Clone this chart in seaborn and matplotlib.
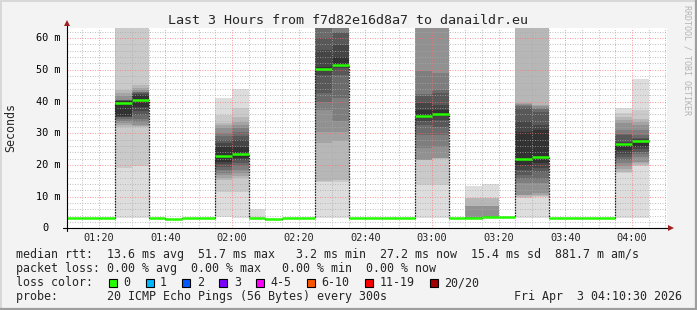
import numpy as np
import pandas as pd
import matplotlib
matplotlib.use("Agg")
import matplotlib.pyplot as plt
from matplotlib.patches import Rectangle
from matplotlib.lines import Line2D
import seaborn as sns

# ---------------- data ----------------
title = "Last 3 Hours from f7d82e16d8a7 to danaildr.eu"
y_axis_label = "Seconds"
slot_start = pd.date_range("2026-04-03 01:10", periods=35, freq="5min")
median_ms = [3.2, 3.2, 3.2, 39.4, 40.5, 3.2, 3.0, 3.2, 3.2, 22.9,
             23.45, 3.3, 3.0, 3.2, 3.2, 50.2, 51.6, 3.2, 3.2, 3.2,
             3.2, 35.3, 36.2, 3.2, 3.1, 3.6, 3.6, 21.9, 22.5, 3.2,
             3.2, 3.2, 3.2, 26.6, 27.4]
# sorted 20 ping round-trip times (ms) for the slots that show smoke
smoke_pings = {
    3: [3.35, 18.9, 32.1, 32.6, 33.2, 33.7, 34.5, 35.0, 35.2, 35.3, 40.2, 40.3, 40.4, 40.5, 40.6, 41.6, 42.6, 43.7, 70.0, 75.0],
    4: [3.4, 19.5, 32.1, 32.3, 32.6, 33.4, 34.5, 35.8, 37.0, 38.4, 42.1, 42.4, 42.7, 42.9, 43.1, 43.6, 44.4, 45.2, 70.0, 75.0],
    9: [3.5, 11.6, 15.2, 15.9, 16.8, 17.6, 18.4, 19.3, 20.2, 21.0, 25.8, 26.8, 27.9, 29.0, 30.0, 31.5, 32.5, 33.1, 35.7, 41.2],
    10: [3.3, 11.6, 15.8, 16.6, 17.4, 18.5, 19.5, 20.5, 21.6, 22.3, 25.8, 27.9, 29.0, 30.5, 31.5, 32.6, 33.5, 35.0, 38.0, 44.0],
    11: [3.1, 3.2, 3.2, 3.2, 3.2, 3.2, 3.2, 3.2, 3.2, 3.2, 3.2, 3.2, 3.2, 3.2, 3.2, 3.2, 3.2, 3.2, 3.4, 6.0],
    15: [3.3, 14.5, 15.0, 26.8, 30.5, 37.4, 40.0, 42.6, 48.4, 49.8, 51.0, 56.3, 60.0, 66.0, 68.0, 70.0, 72.0, 74.0, 76.0, 78.0],
    16: [3.3, 14.7, 15.2, 27.4, 30.5, 33.7, 41.0, 48.4, 50.5, 51.2, 54.0, 57.9, 61.6, 61.8, 66.0, 68.0, 70.0, 72.0, 74.0, 76.0],
    21: [3.3, 13.7, 21.4, 21.5, 21.6, 25.2, 29.5, 32.6, 33.7, 34.8, 37.3, 39.5, 41.6, 42.5, 49.5, 66.0, 68.0, 70.0, 72.0, 74.0],
    22: [3.3, 13.7, 22.0, 22.1, 22.1, 25.8, 29.5, 32.1, 34.2, 35.4, 37.4, 38.8, 42.6, 43.6, 48.9, 66.0, 68.0, 70.0, 72.0, 74.0],
    24: [3.0, 3.2, 3.2, 3.2, 3.2, 3.2, 3.2, 3.2, 3.2, 3.2, 3.2, 3.2, 3.2, 3.2, 3.7, 7.0, 7.0, 9.7, 9.7, 13.35],
    25: [3.3, 3.6, 3.6, 3.6, 3.6, 3.6, 3.6, 3.6, 3.6, 3.6, 3.6, 3.6, 3.6, 3.6, 3.9, 7.0, 7.0, 9.7, 9.7, 14.0],
    27: [3.3, 9.7, 9.9, 10.5, 10.5, 14.2, 15.7, 16.8, 18.5, 20.0, 30.5, 33.7, 37.9, 38.5, 38.9, 39.2, 39.5, 66.0, 70.0, 74.0],
    28: [3.3, 10.0, 10.3, 10.5, 11.0, 14.2, 15.5, 17.8, 19.0, 20.5, 31.0, 32.6, 36.8, 37.5, 38.0, 38.5, 39.0, 66.0, 70.0, 74.0],
    33: [3.4, 17.6, 17.9, 18.7, 19.5, 20.5, 21.5, 22.6, 23.6, 24.7, 27.0, 27.3, 29.4, 29.7, 31.0, 33.1, 34.2, 35.0, 36.5, 38.1],
    34: [3.4, 19.8, 20.0, 20.5, 21.0, 22.6, 23.4, 24.2, 25.0, 25.8, 27.9, 28.1, 28.4, 29.5, 31.0, 32.6, 33.5, 34.6, 37.3, 47.2],
}
x_tick_labels = ["01:20", "01:40", "02:00", "02:20", "02:40", "03:00", "03:20", "03:40", "04:00"]
y_tick_values = [0, 10, 20, 30, 40, 50, 60]
y_tick_labels = ["0", "10 m", "20 m", "30 m", "40 m", "50 m", "60 m"]
window_start, window_end = "01:10:30", "04:10:30"
loss_labels = ["0", "1", "2", "3", "4-5", "6-10", "11-19", "20/20"]
loss_colors = ["#26ff00", "#00b8ff", "#0059ff", "#7e00ff", "#ff00ff", "#ff5500", "#ff0000", "#a10000"]
legend_rtt = "median rtt:  13.6 ms avg  51.7 ms max   3.2 ms min  27.2 ms now  15.4 ms sd  881.7 m am/s"
legend_loss = "packet loss: 0.00 % avg  0.00 % max   0.00 % min  0.00 % now"
legend_probe = "probe:       20 ICMP Echo Pings (56 Bytes) every 300s"
timestamp = "Fri Apr  3 04:10:30 2026"
watermark = "RRDTOOL / TOBI OETIKER"

# ---------------- style ----------------
sns.set_style("white")
MONO = "DejaVu Sans Mono"
plt.rcParams["font.family"] = [MONO, "DejaVu Sans"]
BG = "#f3f3f3"

W, H, DPI = 697, 310, 100
fig = plt.figure(figsize=(W / DPI, H / DPI), dpi=DPI, facecolor=BG)
AX_L, AX_R, AX_T, AX_B = 67, 667, 28, 228.3
ax = fig.add_axes([AX_L / W, 1 - AX_B / H, (AX_R - AX_L) / W, (AX_B - AX_T) / H])
ax.set_facecolor("white")


def to_min(s):
    t = pd.Timestamp("2026-04-03 " + s)
    return t.hour * 60 + t.minute + t.second / 60.0


slot_min = np.array([t.hour * 60 + t.minute for t in slot_start], dtype=float)
ax.set_xlim(to_min(window_start), to_min(window_end))
ax.set_ylim(0, 63.2)

# smoke bands (outer light -> inner dark)
half = 10
for ibot in range(1, half + 1):
    shade = int(190 / half * (half - ibot)) + 50
    col = "#{0:02x}{0:02x}{0:02x}".format(shade)
    keys = sorted(smoke_pings)
    lo = np.array([smoke_pings[k][ibot - 1] for k in keys])
    hi = np.array([smoke_pings[k][20 - ibot] for k in keys])
    ax.bar(slot_min[keys], hi - lo, bottom=lo, width=5, align="edge",
           color=col, linewidth=0, antialiased=False, zorder=1)

# median: dark step line + green loss-colored segments
step_x = list(slot_min) + [slot_min[-1] + 5]
step_y = list(median_ms) + [median_ms[-1]]
sns.lineplot(x=step_x, y=step_y, drawstyle="steps-post", color="#202020",
             lw=0.9, ls=(0, (1.2, 1.0)), estimator=None, ax=ax, zorder=4)
ax.hlines(median_ms, slot_min, slot_min + 5, color=loss_colors[0], lw=1.8, zorder=5)

# ticks / grid
ax.set_xticks([to_min(s) for s in x_tick_labels])
ax.set_xticklabels(x_tick_labels, fontsize=7.4, family=MONO)
ax.set_xticks(np.arange(75, 251, 5), minor=True)
ax.set_yticks(y_tick_values)
ax.set_yticklabels([])
ax.set_yticks(np.arange(2, 63, 2), minor=True)
ax.set_axisbelow(False)
ax.grid(which="minor", color="#aaaaaa", alpha=0.7, lw=0.72, ls=(0, (1, 1.5)), zorder=3)
ax.grid(which="major", color="#ff6a6a", alpha=0.65, lw=0.72, ls=(0, (1, 1.5)), zorder=3)
ax.tick_params(axis="x", which="major", length=2.5, width=0.72, color="#ff6060", pad=1.2)
ax.tick_params(axis="x", which="minor", length=1.5, width=0.72, color="#999999")
ax.tick_params(axis="y", which="major", length=2.5, width=0.72, color="#ff6060")
ax.tick_params(axis="y", which="minor", length=1.5, width=0.72, color="#999999")
for s in ax.spines.values():
    s.set_visible(False)

ytr = ax.get_yaxis_transform()
cw = 6.2
for v, lab in zip(y_tick_values, y_tick_labels):
    xr = 60.8 if lab.endswith("m") else 60.8 - 2 * cw
    ax.text((xr - AX_L) / (AX_R - AX_L), v, lab, transform=ytr, ha="right",
            va="center", fontsize=7.4, family=MONO, color="black")

# axis lines with arrows
ax.plot([(62.5 - AX_L) / 600, (670 - AX_L) / 600], [0, 0], transform=ax.transAxes,
        color="black", lw=0.8, clip_on=False, zorder=6)
ax.plot([0, 0], [(AX_B - 231) / 200.3, (AX_B - 24) / 200.3], transform=ax.transAxes,
        color="black", lw=0.8, clip_on=False, zorder=6)
ax.plot([(671 - AX_L) / 600], [0], marker=">", ms=4.5, color="#a02020",
        transform=ax.transAxes, clip_on=False, zorder=7, mew=0)
ax.plot([0], [(AX_B - 23.5) / 200.3], marker="^", ms=4.5, color="#a02020",
        transform=ax.transAxes, clip_on=False, zorder=7, mew=0)


def fx(x):
    return x / W


def fy(y):
    return 1 - y / H


# texts
fig.text(fx(348), fy(24), title, ha="center", va="baseline", fontsize=9.6, family=MONO)
fig.text(fx(11), fy(127.5), y_axis_label, rotation=90, ha="center", va="center",
         fontsize=8.4, family=MONO)
fig.text(fx(686.5), fy(5), watermark, rotation=270, ha="center", va="top",
         fontsize=6.0, family=MONO, color="#b4b4b4")

LX = 16
fig.text(fx(LX), fy(258.3), legend_rtt, ha="left", va="baseline", fontsize=8.4, family=MONO)
fig.text(fx(LX), fy(272.3), legend_loss, ha="left", va="baseline", fontsize=8.4, family=MONO)
fig.text(fx(LX), fy(286.2), "loss color:", ha="left", va="baseline", fontsize=8.4, family=MONO)
fig.text(fx(LX), fy(300.2), legend_probe, ha="left", va="baseline", fontsize=8.4, family=MONO)
fig.text(fx(682), fy(300.2), timestamp, ha="right", va="baseline", fontsize=8.4, family=MONO)

cx = 108.7
for lab, colr in zip(loss_labels, loss_colors):
    fig.add_artist(Rectangle((fx(cx), fy(286.5)), 8 / W, 8 / H, transform=fig.transFigure,
                             facecolor=colr, edgecolor="black", lw=0.8))
    fig.text(fx(cx + 14.6), fy(286.2), lab, ha="left", va="baseline", fontsize=8.4, family=MONO)
    cx = cx + 14.6 + len(lab) * 7.03 + 15.2

# 3D frame
fig.add_artist(Line2D([0, 1], [fy(0.5), fy(0.5)], transform=fig.transFigure, color="#d8d8d8", lw=1.4))
fig.add_artist(Line2D([fx(0.5), fx(0.5)], [0, 1], transform=fig.transFigure, color="#d8d8d8", lw=1.4))
fig.add_artist(Line2D([0, 1], [fy(309), fy(309)], transform=fig.transFigure, color="#9e9e9e", lw=1.6))
fig.add_artist(Line2D([fx(696), fx(696)], [0, 1], transform=fig.transFigure, color="#9e9e9e", lw=1.6))

fig.savefig("out.png", dpi=DPI, facecolor=BG)
